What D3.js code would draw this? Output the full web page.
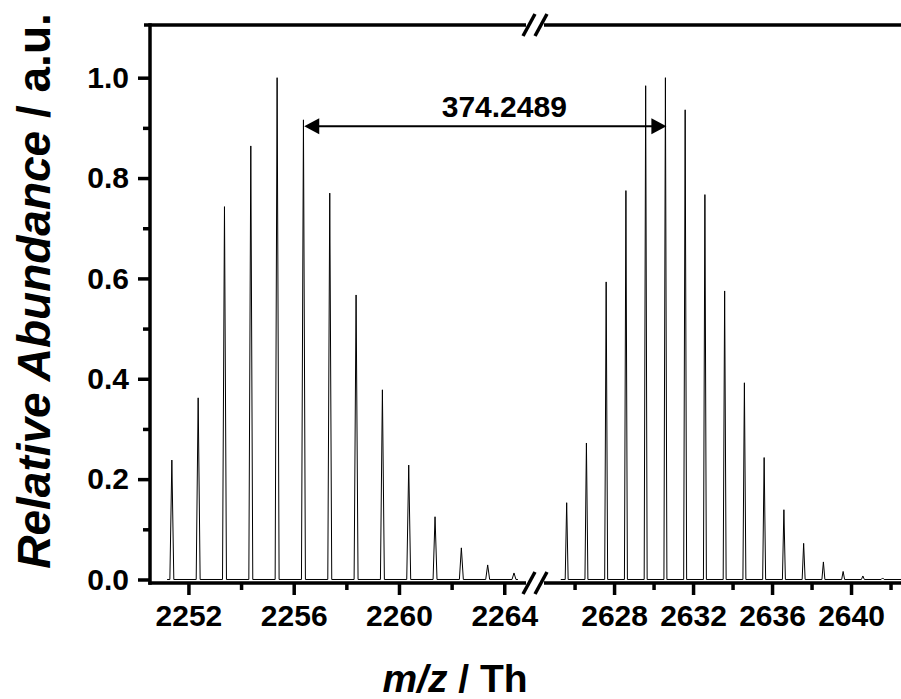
<!DOCTYPE html>
<html>
<head>
<meta charset="utf-8">
<script src="https://cdn.jsdelivr.net/npm/d3@7"></script>
<style>
  html, body { margin: 0; padding: 0; background: #fff; }
  svg { display: block; }
  text { font-family: "Liberation Sans", Arial, sans-serif; font-weight: bold; fill: #000; }
</style>
</head>
<body>
<svg id="chart" width="901" height="699"></svg>
<script>
// ---- data ----
const leftMz  = [2251.37, 2252.37, 2253.37, 2254.37, 2255.37, 2256.37, 2257.37, 2258.37, 2259.37, 2260.37, 2261.37, 2262.37, 2263.37, 2264.37];
const leftInt = [0.238, 0.362, 0.743, 0.864, 1.000, 0.916, 0.770, 0.567, 0.378, 0.228, 0.125, 0.063, 0.029, 0.013];
const rightMz  = [2625.60, 2626.60, 2627.60, 2628.60, 2629.60, 2630.60, 2631.60, 2632.60, 2633.60, 2634.60, 2635.60, 2636.60, 2637.60, 2638.60, 2639.60, 2640.60, 2641.60];
const rightInt = [0.153, 0.272, 0.593, 0.775, 0.984, 1.000, 0.936, 0.767, 0.575, 0.392, 0.243, 0.139, 0.072, 0.035, 0.016, 0.007, 0.003];
const leftBaseline = [2251.19, 2264.52];
const rightBaseline = [2625.30, 2643.5];
const leftMajor = [2252, 2256, 2260, 2264];
const leftMinor = [2254, 2258, 2262];
const rightMajor = [2628, 2632, 2636, 2640];
const rightMinor = [2626, 2630, 2634, 2638, 2642];
const yMajor = [0.0, 0.2, 0.4, 0.6, 0.8, 1.0];
const yMinor = [0.1, 0.3, 0.5, 0.7, 0.9];
const arrowFrom = 2256.40, arrowTo = 2630.65, arrowY = 0.903;
const arrowLabel = "374.2489";

// ---- layout ----
const svg = d3.select("#chart");
const plotLeft = 150, plotTop = 25, plotBottom = 583;
const breakL = 529, breakR = 541, plotRight = 901;
const AX = 3.5;

const xL = d3.scaleLinear().domain([2250.54, 2264.94]).range([plotLeft, breakL]);
const xR = d3.scaleLinear().domain([2624.30, 2642.53]).range([breakR, plotRight]);
const y = d3.scaleLinear().domain([-0.007, 1.105]).range([plotBottom, plotTop]);

const hw = 0.075; // peak half-width in m/z
function peakPts(mz, inten, base) {
  const pts = [[base[0], 0]];
  mz.forEach((m, i) => { pts.push([m - hw, 0], [m, inten[i]], [m + hw, 0]); });
  pts.push([base[1], 0]);
  return pts;
}

const clip = svg.append("defs");
clip.append("clipPath").attr("id", "cl").append("rect")
  .attr("x", plotLeft).attr("y", plotTop).attr("width", breakL - plotLeft).attr("height", plotBottom - plotTop);
clip.append("clipPath").attr("id", "cr").append("rect")
  .attr("x", breakR).attr("y", plotTop).attr("width", plotRight - breakR).attr("height", plotBottom - plotTop);

svg.append("path").attr("clip-path", "url(#cl)")
  .attr("d", d3.line().x(d => xL(d[0])).y(d => y(d[1]))(peakPts(leftMz, leftInt, leftBaseline)))
  .attr("fill", "none").attr("stroke", "#000").attr("stroke-width", 1);
svg.append("path").attr("clip-path", "url(#cr)")
  .attr("d", d3.line().x(d => xR(d[0])).y(d => y(d[1]))(peakPts(rightMz, rightInt, rightBaseline)))
  .attr("fill", "none").attr("stroke", "#000").attr("stroke-width", 1);

// ---- axes ----
function xAxis(scale, major, minor) {
  const g = svg.append("g").attr("transform", `translate(0,${plotBottom})`);
  g.call(d3.axisBottom(scale).tickValues(major).tickSize(12).tickSizeOuter(0).tickPadding(8).tickFormat(d3.format("d")));
  g.select(".domain").remove();
  g.selectAll(".tick line").attr("stroke", "#000").attr("stroke-width", AX);
  g.selectAll(".tick text").attr("font-size", 30).attr("font-family", null).style("font-weight", "bold").attr("dy", "0.75em");
  const gm = svg.append("g").attr("transform", `translate(0,${plotBottom})`);
  gm.call(d3.axisBottom(scale).tickValues(minor).tickSize(7).tickSizeOuter(0).tickFormat(""));
  gm.select(".domain").remove();
  gm.selectAll(".tick line").attr("stroke", "#000").attr("stroke-width", AX);
}
xAxis(xL, leftMajor, leftMinor);
xAxis(xR, rightMajor, rightMinor);

const gy = svg.append("g").attr("transform", `translate(${plotLeft},0)`);
gy.call(d3.axisLeft(y).tickValues(yMajor).tickSize(12).tickSizeOuter(0).tickPadding(9).tickFormat(d3.format(".1f")));
gy.select(".domain").remove();
gy.selectAll(".tick line").attr("stroke", "#000").attr("stroke-width", AX);
gy.selectAll(".tick text").attr("font-size", 30).attr("font-family", null).style("font-weight", "bold");
const gym = svg.append("g").attr("transform", `translate(${plotLeft},0)`);
gym.call(d3.axisLeft(y).tickValues(yMinor).tickSize(7).tickSizeOuter(0).tickFormat(""));
gym.select(".domain").remove();
gym.selectAll(".tick line").attr("stroke", "#000").attr("stroke-width", AX);

// axis lines
const lines = [
  [plotLeft, plotTop - AX/2, plotLeft, plotBottom + AX/2],
  [plotLeft - 6, plotTop, breakL - 3, plotTop],
  [breakR + 3, plotTop, plotRight, plotTop],
  [plotLeft - AX/2, plotBottom, breakL - 3, plotBottom],
  [breakR + 3, plotBottom, plotRight, plotBottom]
];
svg.selectAll(".axl").data(lines).enter().append("line")
  .attr("x1", d => d[0]).attr("y1", d => d[1]).attr("x2", d => d[2]).attr("y2", d => d[3])
  .attr("stroke", "#000").attr("stroke-width", AX);

// break marks
[plotTop, plotBottom].forEach(yy => {
  [breakL, breakR].forEach(xx => {
    svg.append("line").attr("x1", xx - 6).attr("y1", yy + 11).attr("x2", xx + 6).attr("y2", yy - 11)
      .attr("stroke", "#000").attr("stroke-width", 3.5);
  });
});

// ---- arrow ----
const ax1 = xL(arrowFrom), ax2 = xR(arrowTo), ay = y(arrowY);
const ahL = 15, ahW = 8;
svg.append("line").attr("x1", ax1 + 5).attr("y1", ay).attr("x2", ax2 - 5).attr("y2", ay)
  .attr("stroke", "#000").attr("stroke-width", 2);
svg.append("path").attr("d", `M${ax1},${ay}L${ax1 + ahL},${ay - ahW}L${ax1 + ahL},${ay + ahW}Z`).attr("fill", "#000");
svg.append("path").attr("d", `M${ax2},${ay}L${ax2 - ahL},${ay - ahW}L${ax2 - ahL},${ay + ahW}Z`).attr("fill", "#000");
svg.append("text").attr("x", (ax1 + ax2) / 2 + 19).attr("y", ay - 9)
  .attr("text-anchor", "middle").attr("font-size", 30).text(arrowLabel);

// ---- titles ----
const xt = svg.append("text").attr("x", 455).attr("y", 692).attr("text-anchor", "middle").attr("font-size", 39);
xt.append("tspan").style("font-style", "italic").text("m/z");
xt.append("tspan").text(" / Th");

const yt = svg.append("text").attr("transform", "translate(50,291) rotate(-90)").attr("text-anchor", "middle").attr("font-size", 46);
yt.append("tspan").style("font-style", "italic").text("Relative Abundance");
yt.append("tspan").text(" / a.u.");
</script>
</body>
</html>
